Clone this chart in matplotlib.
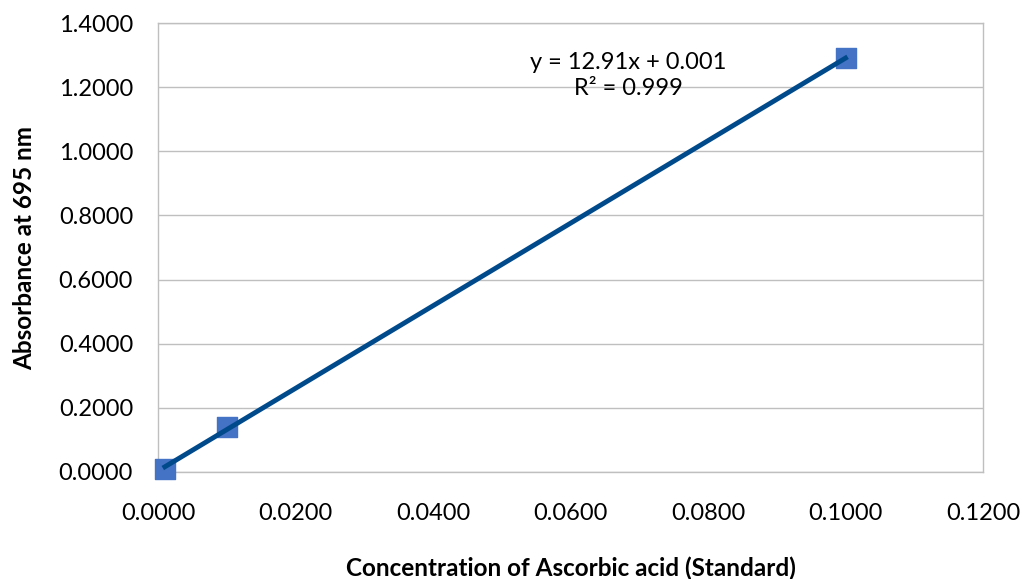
import numpy as np
import matplotlib
matplotlib.use('Agg')
import matplotlib.pyplot as plt

plt.rcParams['font.family'] = ['Lato', 'DejaVu Sans']

# standard curve data
conc = [0.001, 0.010, 0.100]
absorb = [0.010, 0.139, 1.290]
xticks = [0.0, 0.02, 0.04, 0.06, 0.08, 0.10, 0.12]
yticks = [0.0, 0.2, 0.4, 0.6, 0.8, 1.0, 1.2, 1.4]

slope, inter = np.polyfit(conc, absorb, 1)

fig = plt.figure(figsize=(10.25, 5.79), dpi=100)
ax = fig.add_axes([158/1025, 1-472/579, (983-158)/1025, (472-23)/579])

ax.grid(axis='y', color='#bfbfbf', lw=1)
ax.set_axisbelow(True)
for s in ax.spines.values():
    s.set_color('#bfbfbf')
    s.set_linewidth(1)

ax.scatter(conc, absorb, marker='s', s=210, color='#4472c4', zorder=3, clip_on=False)
xs = np.array([conc[0], conc[-1]])
ax.plot(xs, slope*xs + inter, color='#004a8c', lw=3.5, zorder=4)

ax.set_xlim(0, 0.12)
ax.set_ylim(0, 1.4)
ax.set_xticks(xticks)
ax.set_yticks(yticks)
ax.set_xticklabels([f'{v:.4f}' for v in xticks])
ax.set_yticklabels([f'{v:.4f}' for v in yticks])
ax.tick_params(length=0, labelsize=17, colors='black')
ax.tick_params(axis='y', pad=18)
ax.tick_params(axis='x', pad=22)

ax.set_xlabel('Concentration of Ascorbic acid (Standard)', fontsize=17.5, fontweight='bold', labelpad=24)
ax.set_ylabel('Absorbance at 695 nm', fontsize=17.5, fontweight='bold', labelpad=16)

ax.text(0.0684, 1.235, 'y = 12.91x + 0.001\nR² = 0.999', ha='center', va='center',
        fontsize=17, linespacing=1.3)

fig.savefig('out.png', dpi=100)
